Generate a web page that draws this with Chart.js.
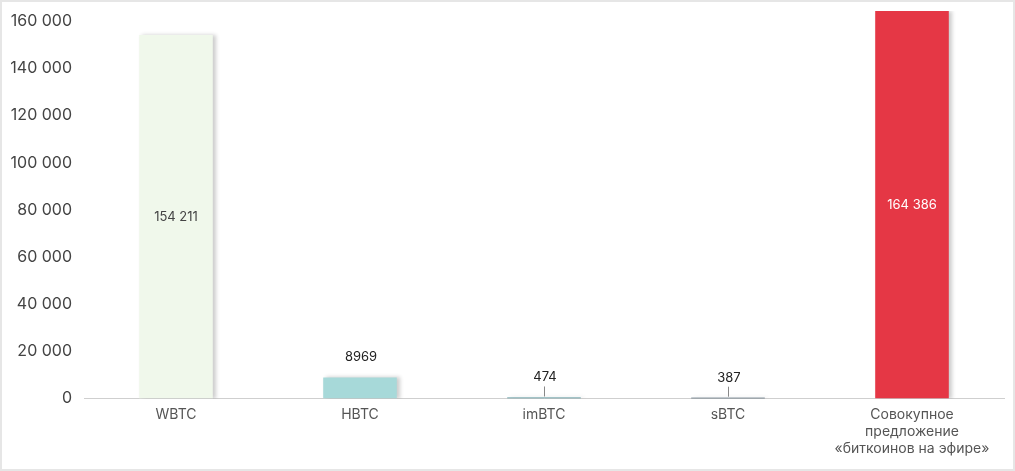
<!DOCTYPE html>
<html><head><meta charset="utf-8">
<script src="https://cdn.jsdelivr.net/npm/chart.js@4/dist/chart.umd.min.js"></script>
<style>
html,body{margin:0;padding:0;background:#fff;}
#wrap{position:relative;width:1015px;height:471px;box-sizing:border-box;border:2px solid #e6e6e6;}
canvas{display:block;}
</style></head>
<body><div id="wrap"><canvas id="c" width="1011" height="467"></canvas></div>
<script>
const categories = ["WBTC", "HBTC", "imBTC", "sBTC", ["Совокупное", "предложение", "«биткоинов на эфире»"]];
const values = [154211, 8969, 474, 387, 164386];
const valueLabels = ["154 211", "8969", "474", "387", "164 386"];
const barColors = ["#f0f8eb", "#a7d9d9", "#4f8f98", "#1e3a4e", "#e53745"];
const yTicks = [0, 20000, 40000, 60000, 80000, 100000, 120000, 140000, 160000];

const fmt = v => String(v).replace(/\B(?=(\d{3})+(?!\d))/g, " ");

const shadowPlugin = {
  id: 'shadow',
  beforeDatasetDraw(chart) {
    const ctx = chart.ctx;
    ctx.save();
    ctx.shadowColor = 'rgba(0,0,0,0.2)';
    ctx.shadowBlur = 4;
    ctx.shadowOffsetX = 3;
    ctx.shadowOffsetY = 0;
  },
  afterDatasetDraw(chart) { chart.ctx.restore(); }
};

const labelPlugin = {
  id: 'valueLabels',
  afterDatasetsDraw(chart) {
    const ctx = chart.ctx;
    const meta = chart.getDatasetMeta(0);
    ctx.save();
    ctx.font = '13px Inter, "Liberation Sans", sans-serif';
    ctx.textAlign = 'center';
    ctx.textBaseline = 'middle';
    meta.data.forEach((bar, i) => {
      const h = bar.base - bar.y;
      if (h > 100) {
        ctx.fillStyle = i === 4 ? '#ffffff' : '#444444';
        ctx.fillText(valueLabels[i], bar.x, (bar.y + bar.base) / 2);
      } else {
        ctx.fillStyle = '#222222';
        ctx.fillText(valueLabels[i], bar.x + 1, bar.y - 20);
        if (h < 5) {
          ctx.strokeStyle = '#888';
          ctx.lineWidth = 1;
          ctx.beginPath();
          ctx.moveTo(Math.round(bar.x) + 0.5, bar.y - 1);
          ctx.lineTo(Math.round(bar.x) + 0.5, bar.y - 11);
          ctx.stroke();
        }
      }
    });
    ctx.restore();
  }
};

new Chart(document.getElementById('c'), {
  type: 'bar',
  data: {
    labels: categories,
    datasets: [{
      data: values,
      backgroundColor: barColors,
      borderWidth: 0,
      barPercentage: 0.4,
      categoryPercentage: 1.0
    }]
  },
  options: {
    responsive: false,
    animation: false,
    layout: { padding: { top: 9, right: 9, bottom: 4, left: 0 } },
    plugins: { legend: { display: false }, tooltip: { enabled: false } },
    scales: {
      x: {
        grid: { display: false, drawTicks: false },
        border: { display: true, color: '#cfcfcf', width: 1 },
        ticks: { color: '#555', font: { size: 14, family: 'Inter, "Liberation Sans", sans-serif' }, padding: 8, maxRotation: 0, autoSkip: false }
      },
      y: {
        min: 0,
        max: 164386,
        afterBuildTicks(scale) { scale.ticks = yTicks.map(v => ({ value: v })); },
        afterFit(scale) { scale.width = 82; scale.paddingTop = 0; scale.paddingBottom = 0; },
        grid: { display: false, drawTicks: false },
        border: { display: false },
        ticks: { color: '#444', font: { size: 16, family: 'Inter, "Liberation Sans", sans-serif' }, padding: 12, callback: v => fmt(v) }
      }
    }
  },
  plugins: [shadowPlugin, labelPlugin]
});
</script></body></html>
